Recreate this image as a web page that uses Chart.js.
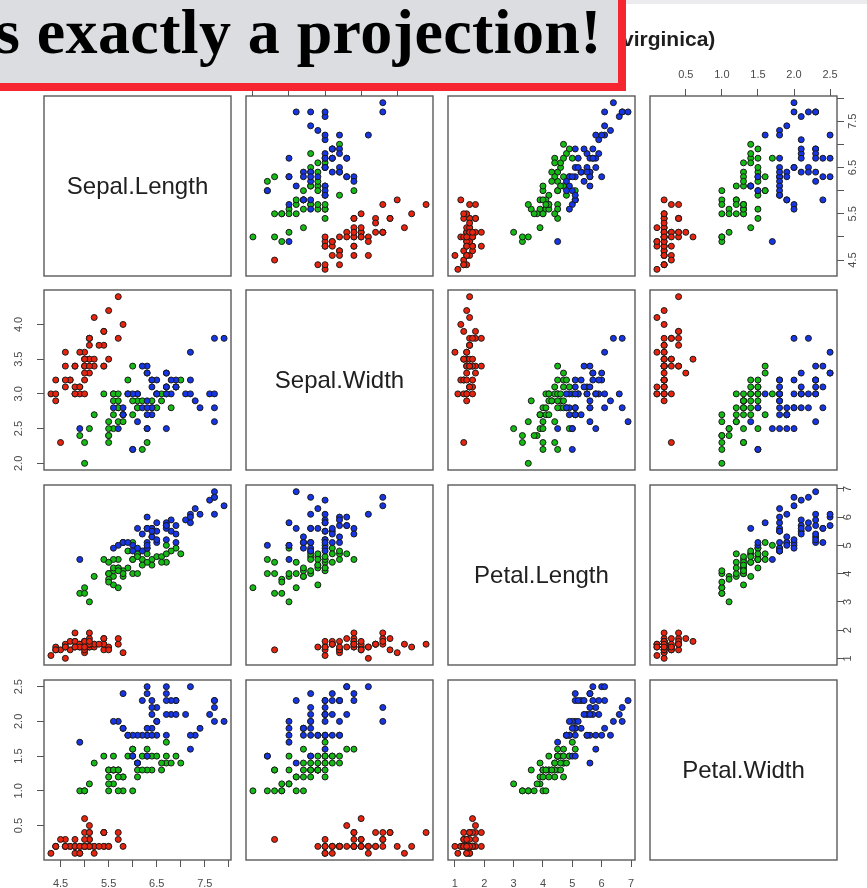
<!DOCTYPE html>
<html><head><meta charset="utf-8">
<script src="https://cdn.jsdelivr.net/npm/chart.js@4.4.1/dist/chart.umd.min.js"></script>
<style>
html,body{margin:0;padding:0;background:#fff;}
#wrap{position:relative;width:867px;height:888px;overflow:hidden;background:#fff;}
#wrap canvas{position:absolute;}
#strip{position:absolute;left:626px;top:0;width:241px;height:4px;background:#ececee;z-index:4;}
#banner{position:absolute;left:0;top:0;width:618px;height:83px;background:#dcdde0;border-right:8px solid #f7252f;border-bottom:8px solid #f7252f;z-index:10;overflow:hidden;}
#banner span{position:absolute;right:16px;top:0px;font:bold 64px "Liberation Serif",serif;line-height:64px;letter-spacing:0.4px;white-space:nowrap;color:#000;}
#sub{position:absolute;left:622px;top:27px;font:bold 21px "Liberation Sans",Arial,sans-serif;color:#1e1e1e;z-index:5;white-space:nowrap;}
</style></head><body>
<div id="wrap">
 <div id="strip"></div>
 <div id="banner"><span>s exactly a projection!</span></div>
 <div id="sub">virginica)</div>
</div>
<script>
// ---------------- data (Iris, read per species) ----------------
const variableNames = ['Sepal.Length','Sepal.Width','Petal.Length','Petal.Width'];
const speciesNames = ['setosa','versicolor','virginica'];
const speciesColors = ['#e8240e','#14bb14','#1535e6'];

const setosaSepalLength = [5.1,4.9,4.7,4.6,5.0,5.4,4.6,5.0,4.4,4.9,5.4,4.8,4.8,4.3,5.8,5.7,5.4,5.1,5.7,5.1,5.4,5.1,4.6,5.1,4.8,5.0,5.0,5.2,5.2,4.7,4.8,5.4,5.2,5.5,4.9,5.0,5.5,4.9,4.4,5.1,5.0,4.5,4.4,5.0,5.1,4.8,5.1,4.6,5.3,5.0];
const setosaSepalWidth  = [3.5,3.0,3.2,3.1,3.6,3.9,3.4,3.4,2.9,3.1,3.7,3.4,3.0,3.0,4.0,4.4,3.9,3.5,3.8,3.8,3.4,3.7,3.6,3.3,3.4,3.0,3.4,3.5,3.4,3.2,3.1,3.4,4.1,4.2,3.1,3.2,3.5,3.6,3.0,3.4,3.5,2.3,3.2,3.5,3.8,3.0,3.8,3.2,3.7,3.3];
const setosaPetalLength = [1.4,1.4,1.3,1.5,1.4,1.7,1.4,1.5,1.4,1.5,1.5,1.6,1.4,1.1,1.2,1.5,1.3,1.4,1.7,1.5,1.7,1.5,1.0,1.7,1.9,1.6,1.6,1.5,1.4,1.6,1.6,1.5,1.5,1.4,1.5,1.2,1.3,1.4,1.3,1.5,1.3,1.3,1.3,1.6,1.9,1.4,1.6,1.4,1.5,1.4];
const setosaPetalWidth  = [0.2,0.2,0.2,0.2,0.2,0.4,0.3,0.2,0.2,0.1,0.2,0.2,0.1,0.1,0.2,0.4,0.4,0.3,0.3,0.3,0.2,0.4,0.2,0.5,0.2,0.2,0.4,0.2,0.2,0.2,0.2,0.4,0.1,0.2,0.2,0.2,0.2,0.1,0.2,0.2,0.3,0.3,0.2,0.6,0.4,0.3,0.2,0.2,0.2,0.2];

const versicolorSepalLength = [7.0,6.4,6.9,5.5,6.5,5.7,6.3,4.9,6.6,5.2,5.0,5.9,6.0,6.1,5.6,6.7,5.6,5.8,6.2,5.6,5.9,6.1,6.3,6.1,6.4,6.6,6.8,6.7,6.0,5.7,5.5,5.5,5.8,6.0,5.4,6.0,6.7,6.3,5.6,5.5,5.5,6.1,5.8,5.0,5.6,5.7,5.7,6.2,5.1,5.7];
const versicolorSepalWidth  = [3.2,3.2,3.1,2.3,2.8,2.8,3.3,2.4,2.9,2.7,2.0,3.0,2.2,2.9,2.9,3.1,3.0,2.7,2.2,2.5,3.2,2.8,2.5,2.8,2.9,3.0,2.8,3.0,2.9,2.6,2.4,2.4,2.7,2.7,3.0,3.4,3.1,2.3,3.0,2.5,2.6,3.0,2.6,2.3,2.7,3.0,2.9,2.9,2.5,2.8];
const versicolorPetalLength = [4.7,4.5,4.9,4.0,4.6,4.5,4.7,3.3,4.6,3.9,3.5,4.2,4.0,4.7,3.6,4.4,4.5,4.1,4.5,3.9,4.8,4.0,4.9,4.7,4.3,4.4,4.8,5.0,4.5,3.5,3.8,3.7,3.9,5.1,4.5,4.5,4.7,4.4,4.1,4.0,4.4,4.6,4.0,3.3,4.2,4.2,4.2,4.3,3.0,4.1];
const versicolorPetalWidth  = [1.4,1.5,1.5,1.3,1.5,1.3,1.6,1.0,1.3,1.4,1.0,1.5,1.0,1.4,1.3,1.4,1.5,1.0,1.5,1.1,1.8,1.3,1.5,1.2,1.3,1.4,1.4,1.7,1.5,1.0,1.1,1.0,1.2,1.6,1.5,1.6,1.5,1.3,1.3,1.3,1.2,1.4,1.2,1.0,1.3,1.2,1.3,1.3,1.1,1.3];

const virginicaSepalLength = [6.3,5.8,7.1,6.3,6.5,7.6,4.9,7.3,6.7,7.2,6.5,6.4,6.8,5.7,5.8,6.4,6.5,7.7,7.7,6.0,6.9,5.6,7.7,6.3,6.7,7.2,6.2,6.1,6.4,7.2,7.4,7.9,6.4,6.3,6.1,7.7,6.3,6.4,6.0,6.9,6.7,6.9,5.8,6.8,6.7,6.7,6.3,6.5,6.2,5.9];
const virginicaSepalWidth  = [3.3,2.7,3.0,2.9,3.0,3.0,2.5,2.9,2.5,3.6,3.2,2.7,3.0,2.5,2.8,3.2,3.0,3.8,2.6,2.2,3.2,2.8,2.8,2.7,3.3,3.2,2.8,3.0,2.8,3.0,2.8,3.8,2.8,2.8,2.6,3.0,3.4,3.1,3.0,3.1,3.1,3.1,2.7,3.2,3.3,3.0,2.5,3.0,3.4,3.0];
const virginicaPetalLength = [6.0,5.1,5.9,5.6,5.8,6.6,4.5,6.3,5.8,6.1,5.1,5.3,5.5,5.0,5.1,5.3,5.5,6.7,6.9,5.0,5.7,4.9,6.7,4.9,5.7,6.0,4.8,4.9,5.6,5.8,6.1,6.4,5.6,5.1,5.6,6.1,5.6,5.5,4.8,5.4,5.6,5.1,5.1,5.9,5.7,5.2,5.0,5.2,5.4,5.1];
const virginicaPetalWidth  = [2.5,1.9,2.1,1.8,2.2,2.1,1.7,1.8,1.8,2.5,2.0,1.9,2.1,2.0,2.4,2.3,1.8,2.2,2.3,1.5,2.3,2.0,2.0,1.8,2.1,1.8,1.8,1.8,2.1,1.6,1.9,2.0,2.2,1.5,1.4,2.3,2.4,1.8,1.8,2.1,2.4,2.3,1.9,2.3,2.5,2.3,1.9,2.0,2.3,1.8];

// tick values and tick labels of each variable's axis
const sepalLengthTicks = [4.5,5.0,5.5,6.0,6.5,7.0,7.5,8.0];
const sepalLengthTickLabels = ['4.5','','5.5','','6.5','','7.5',''];
const sepalWidthTicks = [2.0,2.5,3.0,3.5,4.0];
const sepalWidthTickLabels = ['2.0','2.5','3.0','3.5','4.0'];
const petalLengthTicks = [1,2,3,4,5,6,7];
const petalLengthTickLabels = ['1','2','3','4','5','6','7'];
const petalWidthTicks = [0.5,1.0,1.5,2.0,2.5];
const petalWidthTickLabels = ['0.5','1.0','1.5','2.0','2.5'];

// ---------------- assembly ----------------
const bySpecies = [
  [setosaSepalLength, setosaSepalWidth, setosaPetalLength, setosaPetalWidth],
  [versicolorSepalLength, versicolorSepalWidth, versicolorPetalLength, versicolorPetalWidth],
  [virginicaSepalLength, virginicaSepalWidth, virginicaPetalLength, virginicaPetalWidth]
];
const tickSets = [sepalLengthTicks, sepalWidthTicks, petalLengthTicks, petalWidthTicks];
const labelSets = [sepalLengthTickLabels, sepalWidthTickLabels, petalLengthTickLabels, petalWidthTickLabels];

// R-style axis range: data range extended by 4% on both sides
const ranges = [0,1,2,3].map(v => {
  const all = bySpecies.flatMap(s => s[v]);
  const mn = Math.min(...all), mx = Math.max(...all), d = (mx - mn) * 0.04;
  return [mn - d, mx + d];
});

// layout
const panelLeft = [44, 246, 448, 650];
const panelTop = [96, 290, 485, 680];
const panelW = 187, panelH = 180;
const M = 45, AX = 40;
const TICK_FONT = {family: '"Liberation Sans Narrow", "Liberation Sans", Arial, sans-serif', size: 11};
const padBySide = {top: 7, bottom: 10, left: 10, right: 1};

Chart.defaults.font.family = '"Liberation Sans", Arial, sans-serif';

const framePlugin = {
  id: 'frame',
  afterDatasetsDraw(chart, args, opts) {
    const {ctx, chartArea: a} = chart;
    ctx.save();
    ctx.strokeStyle = '#5a5a5a';
    ctx.lineWidth = 1.4;
    ctx.strokeRect(a.left, a.top, a.right - a.left, a.bottom - a.top);
    if (opts.label) {
      ctx.fillStyle = '#202020';
      ctx.font = '24px "Liberation Sans", Arial, sans-serif';
      ctx.textAlign = 'center';
      ctx.textBaseline = 'middle';
      ctx.fillText(opts.label, (a.left + a.right) / 2, (a.top + a.bottom) / 2 + 1);
    }
    ctx.restore();
  }
};

function scaleOpts(varIdx, position, show) {
  const vertical = (position === 'left' || position === 'right');
  return {
    type: 'linear', position, display: show, bounds: 'data',
    min: ranges[varIdx][0], max: ranges[varIdx][1],
    afterBuildTicks: s => { s.ticks = tickSets[varIdx].map(v => ({value: v})); },
    afterFit: s => {
      const size = show ? AX : 0;
      if (vertical) s.width = size; else s.height = size;
    },
    grid: {display: true, drawOnChartArea: false, drawTicks: true, tickLength: 7, color: '#555', tickColor: '#555', tickWidth: 1},
    border: {display: false},
    ticks: {
      autoSkip: false, font: TICK_FONT, color: '#4a4a4a', padding: padBySide[position],
      minRotation: vertical ? 90 : 0, maxRotation: vertical ? 90 : 0,
      crossAlign: vertical ? 'center' : 'near',
      callback: (val) => {
        const i = tickSets[varIdx].findIndex(t => Math.abs(t - val) < 1e-9);
        return i >= 0 ? labelSets[varIdx][i] : '';
      }
    }
  };
}

const wrap = document.getElementById('wrap');
for (let r = 0; r < 4; r++) {
  for (let c = 0; c < 4; c++) {
    const cv = document.createElement('canvas');
    const W = panelW + 2 * M, H = panelH + 2 * M;
    cv.width = W; cv.height = H;
    cv.style.width = W + 'px'; cv.style.height = H + 'px';
    cv.style.left = (panelLeft[c] - M) + 'px';
    cv.style.top = (panelTop[r] - M) + 'px';
    wrap.appendChild(cv);

    const diag = r === c;
    // R pairs() axis placement
    const showTop = !diag && r === 0 && c % 2 === 1;
    const showBottom = !diag && r === 3 && c % 2 === 0;
    const showLeft = !diag && c === 0 && r % 2 === 1;
    const showRight = !diag && c === 3 && r % 2 === 0;
    const xPos = showTop ? 'top' : 'bottom';
    const yPos = showRight ? 'right' : 'left';

    const datasets = diag ? [] : speciesNames.map((name, s) => ({
      label: name,
      data: bySpecies[s][c].map((xv, i) => ({x: xv, y: bySpecies[s][r][i]})),
      backgroundColor: speciesColors[s],
      pointBackgroundColor: speciesColors[s],
      pointBorderColor: '#1a1a1a',
      pointBorderWidth: 1,
      pointRadius: 3,
      order: 2 - s
    }));

    new Chart(cv, {
      type: 'scatter',
      data: {datasets},
      options: {
        responsive: false, animation: false, events: [],
        devicePixelRatio: 1,
        layout: {
          autoPadding: false,
          padding: {
            left: showLeft ? M - AX : M,
            right: showRight ? M - AX : M,
            top: showTop ? M - AX : M,
            bottom: showBottom ? M - AX : M
          }
        },
        plugins: {legend: {display: false}, tooltip: {enabled: false}, title: {display: false},
                  frame: {label: diag ? variableNames[r] : ''}},
        scales: {
          x: scaleOpts(diag ? r : c, xPos, showTop || showBottom),
          y: scaleOpts(r, yPos, showLeft || showRight)
        }
      },
      plugins: [framePlugin]
    });
  }
}
</script>
</body></html>
